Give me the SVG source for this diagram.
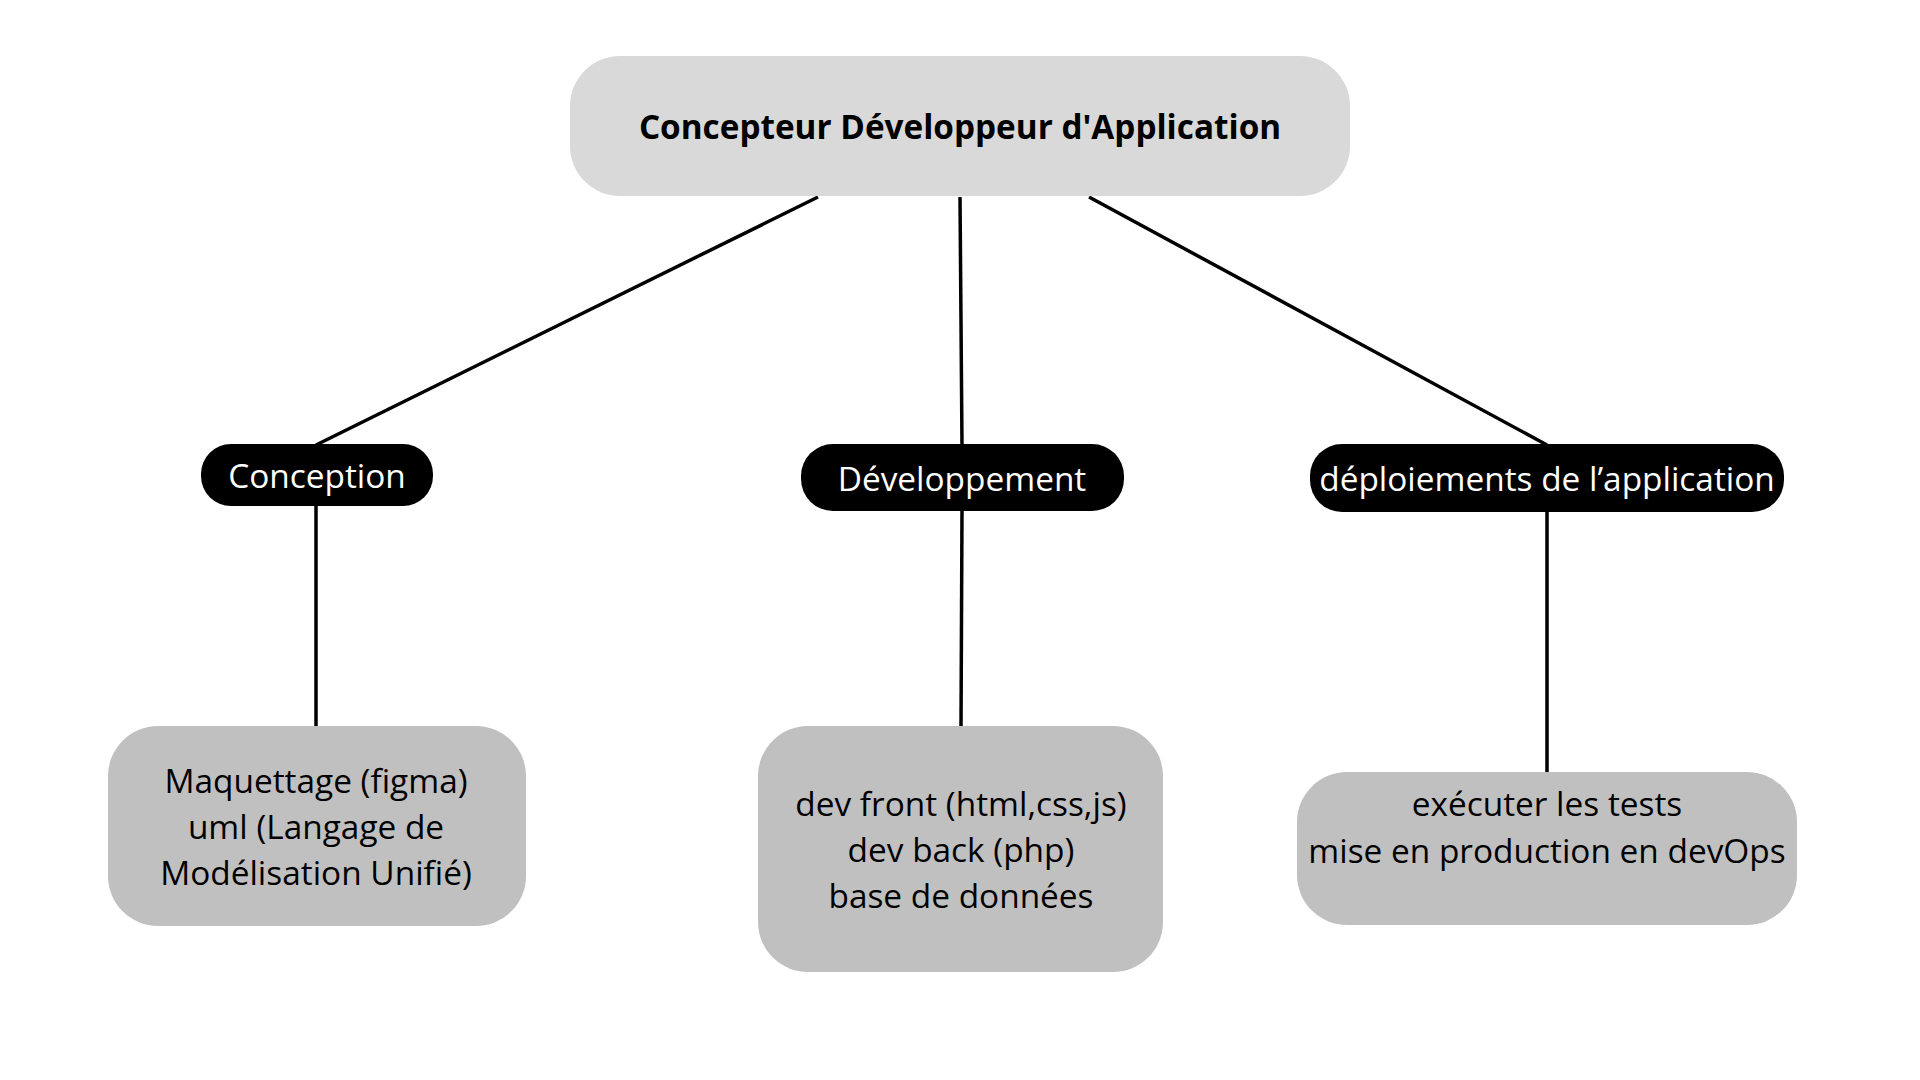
<svg xmlns="http://www.w3.org/2000/svg" width="1920" height="1080" viewBox="0 0 1920 1080">
<style>
.t{font-family:"Open Sans","Noto Sans",sans-serif;font-size:33.4px;text-anchor:middle}
.title{font-family:"Open Sans","Noto Sans",sans-serif;font-size:33.3px;font-weight:bold;text-anchor:middle;fill:#000}
.pill{fill:#000}
.pt{fill:#fff}
.leaf{fill:#c0c0c0}
.lt{fill:#000}
.conn line{stroke:#000;stroke-width:3.5}
</style>
<rect width="1920" height="1080" fill="#fff"/>
<g class="conn" id="connectors">
<line x1="818" y1="197" x2="316" y2="445"/>
<line x1="960" y1="197" x2="962" y2="445"/>
<line x1="1089" y1="197" x2="1547" y2="445"/>
<line x1="316" y1="505" x2="316" y2="727"/>
<line x1="962" y1="510" x2="961" y2="727"/>
<line x1="1547" y1="511" x2="1547" y2="773"/>
</g>
<g id="root">
<rect x="570" y="56" width="780" height="140" rx="50" fill="#d9d9d9"/>
<text class="title" x="960" y="139">Concepteur Développeur d'Application</text>
</g>
<g id="conception">
<rect class="pill" x="201" y="444" width="232" height="62" rx="30"/>
<text class="t pt" x="317" y="488">Conception</text>
</g>
<g id="developpement">
<rect class="pill" x="801" y="444" width="323" height="67" rx="32"/>
<text class="t pt" x="962" y="491">Développement</text>
</g>
<g id="deploiements">
<rect class="pill" x="1310" y="444" width="474" height="68" rx="32"/>
<text class="t pt" x="1547" y="491">déploiements de l’application</text>
</g>
<g id="leaf-conception">
<rect class="leaf" x="108" y="726" width="418" height="200" rx="50"/>
<text class="t lt" x="316" y="793">Maquettage (figma)</text>
<text class="t lt" x="316" y="839">uml (Langage de</text>
<text class="t lt" x="316" y="885">Modélisation Unifié)</text>
</g>
<g id="leaf-developpement">
<rect class="leaf" x="758" y="726" width="405" height="246" rx="50"/>
<text class="t lt" x="961" y="816">dev front (html,css,js)</text>
<text class="t lt" x="961" y="862">dev back (php)</text>
<text class="t lt" x="961" y="908">base de données</text>
</g>
<g id="leaf-deploiements">
<rect class="leaf" x="1297" y="772" width="500" height="153" rx="50"/>
<text class="t lt" x="1547" y="816">exécuter les tests</text>
<text class="t lt" x="1547" y="863">mise en production en devOps</text>
</g>
</svg>
